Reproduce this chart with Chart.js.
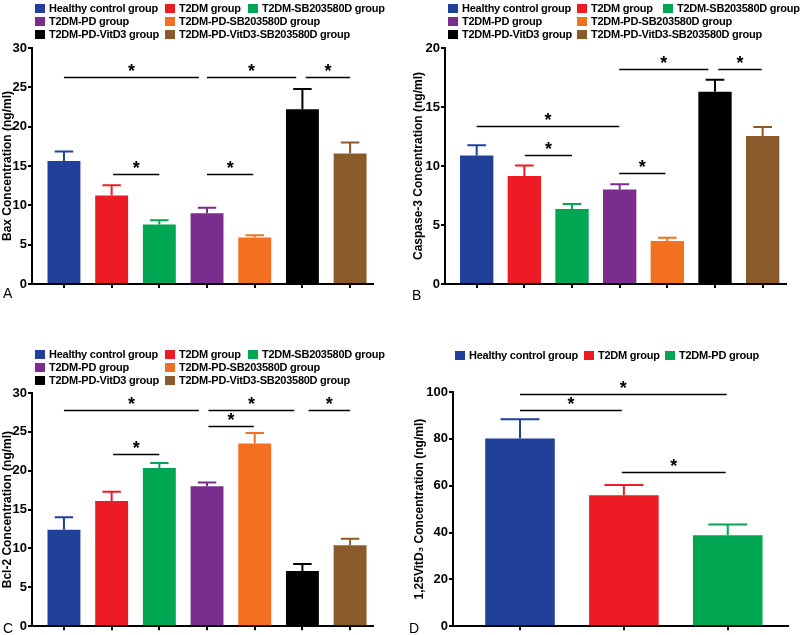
<!DOCTYPE html>
<html>
<head>
<meta charset="utf-8">
<script src="https://cdn.jsdelivr.net/npm/chart.js@4.4.1/dist/chart.umd.min.js"></script>
<style>
  body { margin: 0; background: #fff; }
  #wrap { position: relative; width: 800px; height: 635px; overflow: hidden; }
  #wrap canvas { position: absolute; }
  .lg-box { position: absolute; width: 10px; height: 9px; }
  .lg-txt { position: absolute; font: bold 11px "Liberation Sans", Arial, sans-serif; letter-spacing: -0.25px; line-height: 11px; white-space: nowrap; color: #000; }
  .letter { position: absolute; font: 14px "Liberation Sans", Arial, sans-serif; color: #000; line-height: 14px; }
</style>
</head>
<body>
<div id="wrap"></div>
<script>
// groups and colours
const groups = ["Healthy control group", "T2DM group", "T2DM-SB203580D group", "T2DM-PD group",
  "T2DM-PD-SB203580D group", "T2DM-PD-VitD3 group", "T2DM-PD-VitD3-SB203580D group"];
const groupColors = ["#21409a", "#ed1c24", "#00a651", "#7b2d8e", "#f37021", "#000000", "#8b5a2b"];
const groupsD = ["Healthy control group", "T2DM group", "T2DM-PD group"];
const colorsD = ["#21409a", "#ed1c24", "#00a651"];

// values (mean, error above mean)
const baxMean = [15.65, 11.25, 7.55, 9.0, 5.9, 22.2, 16.6];
const baxErr = [1.2, 1.3, 0.55, 0.7, 0.3, 2.6, 1.4];
const caspMean = [10.9, 9.15, 6.35, 8.0, 3.65, 16.3, 12.55];
const caspErr = [0.85, 0.9, 0.42, 0.45, 0.28, 1.0, 0.75];
const bclMean = [12.4, 16.1, 20.35, 18.0, 23.5, 7.1, 10.4];
const bclErr = [1.6, 1.2, 0.65, 0.5, 1.35, 0.9, 0.85];
const vitMean = [80.1, 55.9, 38.8];
const vitErr = [8.3, 4.4, 4.6];

// y tick labels
const ticks30 = [0, 5, 10, 15, 20, 25, 30];
const ticks20 = [0, 5, 10, 15, 20];
const ticks100 = [0, 20, 40, 60, 80, 100];

// significance lines: [from group, to group, y value]
const baxSig = [[0, 2.83, 26.3], [3, 4.87, 26.3], [5.07, 6, 26.3], [1.03, 2, 14.0], [3, 3.97, 14.0]];
const caspSig = [[0, 2.99, 13.37], [1.01, 2, 10.97], [2.99, 3.96, 9.37], [2.99, 4.86, 18.2], [5.07, 5.98, 18.2]];
const bclSig = [[0, 2.83, 27.8], [3.03, 4.83, 27.8], [5.13, 6, 27.8], [3.03, 3.98, 25.76], [1.03, 2, 22.15]];
const vitSig = [[0, 1.99, 99.3], [0, 0.98, 92.2], [0.98, 1.98, 65.9]];

Chart.defaults.color = "#000";
Chart.defaults.font.family = '"Liberation Sans", Arial, sans-serif';

const wrap = document.getElementById("wrap");

// error bars + significance brackets
function errSigPlugin(mean, err, colors, sig) {
    return {
        id: "errSig",
        afterDatasetsDraw(chart) {
            const ctx = chart.ctx, xs = chart.scales.x, ys = chart.scales.y;
            const meta = chart.getDatasetMeta(0);
            ctx.save();
            meta.data.forEach((bar, i) => {
                const x = xs.getPixelForValue(i);
                const y0 = ys.getPixelForValue(mean[i]);
                const y1 = ys.getPixelForValue(mean[i] + err[i]);
                const half = bar.width * 0.28;
                ctx.strokeStyle = colors[i];
                ctx.lineWidth = 2;
                ctx.beginPath();
                ctx.moveTo(x, y0);
                ctx.lineTo(x, y1);
                ctx.moveTo(x - half, y1);
                ctx.lineTo(x + half, y1);
                ctx.stroke();
            });
            ctx.strokeStyle = "#000";
            ctx.fillStyle = "#000";
            ctx.lineWidth = 1.5;
            ctx.font = 'bold 18px "Liberation Sans", Arial, sans-serif';
            ctx.textAlign = "center";
            ctx.textBaseline = "alphabetic";
            sig.forEach(([a, b, v]) => {
                const xa = xs.getPixelForValue(a), xb = xs.getPixelForValue(b);
                const y = Math.round(ys.getPixelForValue(v)) + 0.5;
                ctx.beginPath();
                ctx.moveTo(xa, y);
                ctx.lineTo(xb, y);
                ctx.stroke();
                ctx.fillText("*", (xa + xb) / 2, y - 1);
            });
            ctx.restore();
        }
    };
}

function makePanel(box, area, cfg) {
    const cv = document.createElement("canvas");
    cv.width = box.w;
    cv.height = box.h;
    cv.style.left = box.x + "px";
    cv.style.top = box.y + "px";
    wrap.appendChild(cv);

    new Chart(cv, {
        type: "bar",
        data: {
            datasets: [{
                data: cfg.mean.map((v, i) => ({ x: i, y: v })),
                backgroundColor: cfg.colors,
                barPercentage: cfg.barPct,
                categoryPercentage: 1
            }]
        },
        options: {
            responsive: false,
            animation: false,
            layout: { padding: { left: 0, top: area.t - box.y, right: box.x + box.w - area.r, bottom: 0 } },
            plugins: { legend: { display: false }, tooltip: { enabled: false } },
            scales: {
                x: {
                    type: "linear",
                    offset: false,
                    min: cfg.xMin,
                    max: cfg.xMax,
                    afterBuildTicks: s => { s.ticks = cfg.mean.map((_, i) => ({ value: i })); },
                    afterFit: s => { s.height = box.y + box.h - area.b; },
                    ticks: { display: false },
                    grid: { offset: false, drawOnChartArea: false, color: "#000", lineWidth: 2, tickLength: 4 },
                    border: { color: "#000", width: 2 }
                },
                y: {
                    min: 0,
                    max: cfg.yMax,
                    afterBuildTicks: s => { s.ticks = cfg.yTicks.map(v => ({ value: v })); },
                    afterFit: s => { s.width = area.l - box.x; },
                    ticks: { font: { size: 13, weight: "bold" }, padding: 1 },
                    grid: { drawOnChartArea: false, color: "#000", lineWidth: 2, tickLength: 4 },
                    border: { color: "#000", width: 2 },
                    title: {
                        display: true,
                        text: cfg.title,
                        font: { size: 12, weight: "bold" },
                        padding: { top: cfg.titlePad, bottom: 0 }
                    }
                }
            }
        },
        plugins: [errSigPlugin(cfg.mean, cfg.err, cfg.colors, cfg.sig)]
    });
}

function addLegend(labels, colors, spots) {
    spots.forEach(([i, x, y]) => {
        const b = document.createElement("div");
        b.className = "lg-box";
        b.style.left = x + "px";
        b.style.top = y + "px";
        b.style.background = colors[i];
        wrap.appendChild(b);
        const t = document.createElement("div");
        t.className = "lg-txt";
        t.style.left = (x + 14) + "px";
        t.style.top = (y - 1) + "px";
        t.textContent = labels[i];
        wrap.appendChild(t);
    });
}

function addLetter(ch, x, y) {
    const d = document.createElement("div");
    d.className = "letter";
    d.style.left = x + "px";
    d.style.top = y + "px";
    d.textContent = ch;
    wrap.appendChild(d);
}

// A: Bax
makePanel({ x: 0, y: 0, w: 400, h: 315 }, { l: 32, t: 48, r: 373, b: 284 }, {
    mean: baxMean, err: baxErr, colors: groupColors, sig: baxSig, barPct: 0.69,
    xMin: -0.67, xMax: 6.48, yMax: 30, yTicks: ticks30,
    title: "Bax Concentration (ng/ml)", titlePad: 0
});
// B: Caspase-3
makePanel({ x: 400, y: 0, w: 400, h: 315 }, { l: 445, t: 48, r: 786, b: 284 }, {
    mean: caspMean, err: caspErr, colors: groupColors, sig: caspSig, barPct: 0.7,
    xMin: -0.665, xMax: 6.49, yMax: 20, yTicks: ticks20,
    title: "Caspase-3 Concentration (ng/ml)", titlePad: 11
});
// C: Bcl-2
makePanel({ x: 0, y: 315, w: 400, h: 320 }, { l: 32, t: 393, r: 373, b: 629 }, {
    mean: bclMean, err: bclErr, colors: groupColors, sig: bclSig, barPct: 0.69,
    xMin: -0.67, xMax: 6.48, yMax: 30, yTicks: ticks30,
    title: "Bcl-2 Concentration (ng/ml)", titlePad: 0
});
// D: 1,25VitD3
makePanel({ x: 400, y: 315, w: 400, h: 320 }, { l: 453, t: 392, r: 788, b: 630 }, {
    mean: vitMean, err: vitErr, colors: colorsD, sig: vitSig, barPct: 0.67,
    xMin: -0.645, xMax: 2.58, yMax: 100, yTicks: ticks100,
    title: "1,25VitD\u2083 Concentration (ng/ml)", titlePad: 12
});

addLegend(groups, groupColors, [[0, 35, 4], [1, 165, 4], [2, 248, 4], [3, 35, 17], [4, 165, 17], [5, 35, 30], [6, 165, 30]]);
addLegend(groups, groupColors, [[0, 448, 4], [1, 577, 4], [2, 663, 4], [3, 448, 17], [4, 577, 17], [5, 448, 30], [6, 577, 30]]);
addLegend(groups, groupColors, [[0, 35, 350], [1, 165, 350], [2, 248, 350], [3, 35, 363], [4, 165, 363], [5, 35, 376], [6, 165, 376]]);
addLegend(groupsD, colorsD, [[0, 455, 351], [1, 584, 351], [2, 665, 351]]);

addLetter("A", 3, 286);
addLetter("B", 412, 288);
addLetter("C", 3, 621);
addLetter("D", 409, 621);
</script>
</body>
</html>
